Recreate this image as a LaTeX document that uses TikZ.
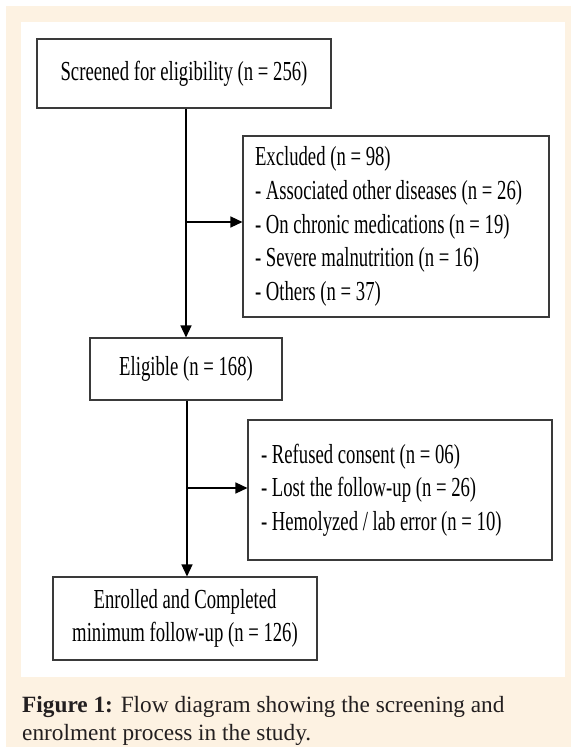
\documentclass[tikz,border=0pt]{standalone}
\usepackage{fontspec}
\setmainfont{Liberation Serif}
\newfontfamily\narrowserif[FakeStretch=0.68]{Liberation Serif}
\usetikzlibrary{arrows.meta,positioning}
\definecolor{cream}{HTML}{FDF2E2}
\definecolor{boxline}{HTML}{3A3A3A}
\definecolor{captext}{HTML}{231F20}
\newcommand{\diagfont}{\narrowserif\fontsize{27.5}{33.7}\selectfont}
\begin{document}
\begin{tikzpicture}[x=1pt,y=-1pt,
  flowbox/.style={draw=boxline, line width=1.1pt, rectangle, font=\diagfont, inner sep=0pt, text=black},
  arr/.style={draw=black, line width=1.4pt, -{Triangle[length=12pt,width=11pt]}}]
  \useasboundingbox (0,0) rectangle (571,747);
  \fill[cream] (6,6) rectangle (571,747);
  \fill[white] (21,22) rectangle (565,677);

  \node[flowbox, minimum width=294pt, minimum height=69pt] (scr) at (184,73.5) {Screened for eligibility (n = 256)};
  \node[flowbox, minimum width=306pt, minimum height=181pt, text width=282pt, align=flush left] (excl) at (396,226.5)
    {Excluded (n = 98)\\- Associated other diseases (n = 26)\\- On chronic medications (n = 19)\\- Severe malnutrition (n = 16)\\- Others (n = 37)\\[-3pt]};
  \node[flowbox, minimum width=192pt, minimum height=62pt] (elig) at (186,369) {Eligible (n = 168)};
  \node[flowbox, minimum width=304pt, minimum height=140pt, text width=278pt, align=flush left] (lost) at (400,490)
    {- Refused consent (n = 06)\\- Lost the follow-up (n = 26)\\- Hemolyzed / lab error (n = 10)};
  \node[flowbox, minimum width=264pt, minimum height=83pt, align=center] (enr) at (185,618.5)
    {Enrolled and Completed\\minimum follow-up (n = 126)};

  \draw[arr] (elig.north |- scr.south) -- (elig.north);
  \coordinate (j1) at (186,222);
  \draw[arr] (j1) -- (j1 -| excl.west);
  \draw[arr] (elig.south -| 187,0) -- (187,0 |- enr.north);
  \coordinate (j2) at (187,488);
  \draw[arr] (j2) -- (j2 -| lost.west);

  \node[anchor=base west, inner sep=0pt, text=captext, font=\fontsize{23.3}{28}\selectfont, align=flush left] (cap) at (22,740)
    {\textbf{Figure 1:} Flow diagram showing the screening and\\enrolment process in the study.};
\end{tikzpicture}
\end{document}
